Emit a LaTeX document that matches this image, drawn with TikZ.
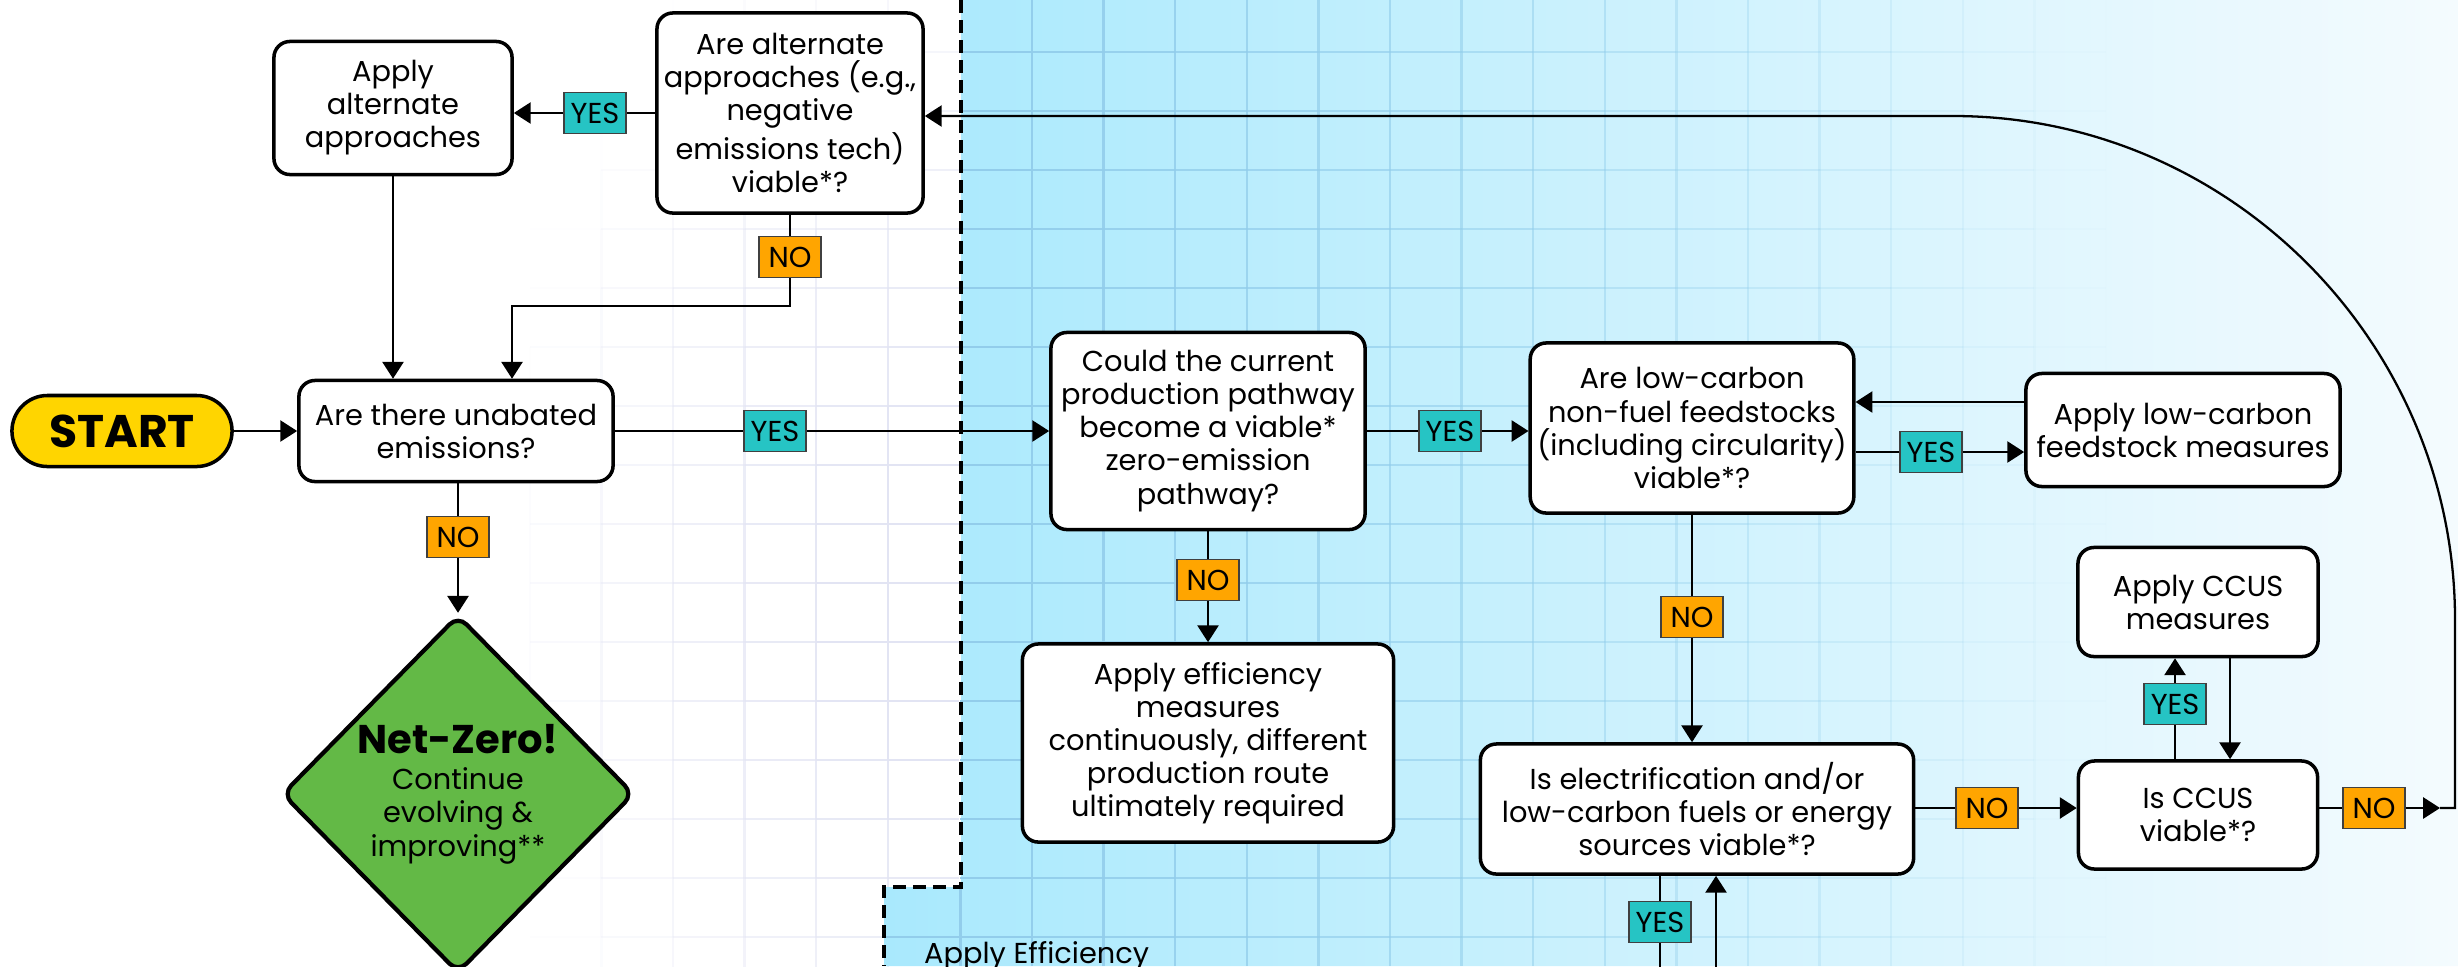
\documentclass[tikz,border=0pt]{standalone}
\usepackage{fontspec}
\setmainfont{Poppins}
\usetikzlibrary{arrows.meta, shapes.geometric}

\definecolor{teal1}{HTML}{26C4C4}
\definecolor{orange1}{HTML}{FFA500}
\definecolor{yellow1}{HTML}{FFD500}
\definecolor{green1}{HTML}{63B946}
\definecolor{skyL}{HTML}{A9E9FD}
\definecolor{skyR}{HTML}{F4FBFE}
\definecolor{gridblue}{HTML}{92CDEB}
\definecolor{gridlav}{HTML}{E2E4F3}

\newcommand{\boxfont}{\fontsize{8.2}{9.4}\selectfont}

\tikzset{
  box/.style={draw, line width=1pt, rounded corners=0.16cm, fill=white, align=center, font=\boxfont, inner sep=2pt},
  tag/.style={draw=black!75, line width=0.5pt, minimum width=0.62cm, minimum height=0.41cm, inner sep=0pt, font=\boxfont},
  yestag/.style={tag, fill=teal1},
  notag/.style={tag, fill=orange1},
  arr/.style={-{Triangle[length=4.8pt,width=6pt]}},
  link/.style={line width=0.65pt},
}

\begin{document}
\begin{tikzpicture}[x=0.01cm, y=-0.01cm, link]
\useasboundingbox (0,0) rectangle (2458,966);
\clip (0,0) rectangle (2458,966);

% faint grid on the white side
\foreach \i in {0,...,6} {
  \pgfmathsetmacro\gx{458.2+71.6*\i}
  \foreach \j in {-1,...,15} {
    \pgfmathsetmacro\gy{52+59*\j}
    \pgfmathsetmacro\dx{(\gx-961)/470}
    \pgfmathsetmacro\dy{(\gy+29.5-600)/750}
    \pgfmathsetmacro\op{min(1,max(0,1.3*(1-sqrt(\dx*\dx+\dy*\dy))))}
    \draw[gridlav, line width=0.7pt, opacity=\op] (\gx,\gy) -- ++(0,59);
  }
  \foreach \j in {0,...,15} {
    \pgfmathsetmacro\gy{52+59*\j}
    \pgfmathsetmacro\dx{(\gx+35.8-961)/470}
    \pgfmathsetmacro\dy{(\gy-600)/750}
    \pgfmathsetmacro\op{min(1,max(0,1.3*(1-sqrt(\dx*\dx+\dy*\dy))))}
    \draw[gridlav, line width=0.7pt, opacity=\op] (\gx,\gy) -- ++(71.6,0);
  }
}

% blue efficiency area
\shade[left color=skyL, right color=skyR] (961,0) -- (2458,0) -- (2458,966) -- (884,966) -- (884,887) -- (961,887) -- cycle;
\foreach \i in {1,...,16} {
  \pgfmathsetmacro\gx{960.4+71.6*\i}
  \pgfmathsetmacro\op{max(0,1-71.6*\i/1150)}
  \draw[gridblue, line width=0.7pt, opacity=\op] (\gx,0) -- (\gx,966);
}
\foreach \j in {0,...,15} {
  \pgfmathsetmacro\gy{52+59*\j}
  \foreach \i in {0,...,15} {
    \pgfmathsetmacro\gx{960.4+71.6*\i}
    \pgfmathsetmacro\op{max(0,1-71.6*(\i+0.5)/1150)}
    \draw[gridblue, line width=0.7pt, opacity=\op] (\gx,\gy) -- ++(71.6,0);
  }
}
\draw[gridblue, line width=0.7pt] (960.4,887) -- (960.4,966);
\draw[gridblue, line width=0.7pt] (884,937) -- (960.4,937);
\draw[line width=0.95pt, dash pattern=on 3.7pt off 2pt] (961,0) -- (961,887) -- (884,887) -- (884,966);
\node[font=\boxfont, anchor=base west, inner sep=0pt] (effarea) at (923,963) {Apply Efficiency};

% boxes
\node[box, fill=yellow1, rounded corners=0.355cm, minimum width=2.2cm, minimum height=0.71cm, font=\fontsize{13}{15}\selectfont\bfseries] (start) at (122,431) {START};
\node[box, minimum width=3.14cm, minimum height=1.01cm] (unab) at (456,431) {Are there unabated\\emissions?};
\node[box, minimum width=2.47cm, minimum height=2cm] (altq) at (790,113) {Are alternate\\approaches (e.g.,\\negative\\emissions tech)\\viable*?};
\node[box, minimum width=2.38cm, minimum height=1.33cm] (applyalt) at (393,108) {Apply\\alternate\\approaches};
\node[diamond, draw, line width=1.2pt, fill=green1, rounded corners=0.12cm, minimum width=3.52cm, minimum height=3.58cm, inner sep=0pt, align=center, font=\boxfont] (netzero) at (458,794) {{\fontsize{11.4}{13}\selectfont\bfseries Net-Zero!}\\[1pt]Continue\\evolving \&\\improving**};
\node[box, minimum width=3.14cm, minimum height=1.97cm] (could) at (1208,431) {Could the current\\production pathway\\become a viable*\\zero-emission\\pathway?};
\node[box, minimum width=3.71cm, minimum height=1.98cm] (effic) at (1208,743) {Apply efficiency\\measures\\continuously, different\\production route\\ultimately required};
\node[box, minimum width=3.13cm, minimum height=1.70cm] (lowc) at (1692,428) {Are low-carbon\\non-fuel feedstocks\\(including circularity)\\viable*?};
\node[box, minimum width=3.14cm, minimum height=1.13cm] (feeds) at (2183,430) {Apply low-carbon\\feedstock measures};
\node[box, minimum width=4.33cm, minimum height=1.30cm] (electr) at (1697,809) {Is electrification and/or\\low-carbon fuels or energy\\sources viable*?};
\node[box, minimum width=2.39cm, minimum height=1.08cm] (ccusq) at (2198,815) {Is CCUS\\viable*?};
\node[box, minimum width=2.40cm, minimum height=1.09cm] (ccusap) at (2198,602) {Apply CCUS\\measures};

% yes / no tags
\node[yestag] (yes1) at (595,113) {YES};
\node[notag] (no1) at (790,257) {NO};
\node[notag] (no2) at (458,537) {NO};
\node[yestag] (yes2) at (775,431) {YES};
\node[notag] (no3) at (1208,580) {NO};
\node[yestag] (yes3) at (1450,431) {YES};
\node[yestag] (yes4) at (1931,452) {YES};
\node[notag] (no4) at (1692,617) {NO};
\node[notag] (no5) at (1987,808) {NO};
\node[yestag] (yes5) at (2175,704) {YES};
\node[notag] (no6) at (2374,808) {NO};
\node[yestag] (yes6) at (1660,922) {YES};

% connectors
\draw[arr] (start) -- (unab);
\draw (unab) -- (yes2);
\draw[arr] (yes2) -- (could);
\draw (could) -- (yes3);
\draw[arr] (yes3) -- (yes3 -| lowc.west);
\draw (lowc.east |- yes4) -- (yes4);
\draw[arr] (yes4) -- (yes4 -| feeds.west);
\draw[arr] (feeds.west |- 0,402) -- (lowc.east |- 0,402);
\draw (lowc.south -| no4) -- (no4);
\draw[arr] (no4) -- (no4 |- electr.north);
\draw (electr.east |- no5) -- (no5);
\draw[arr] (no5) -- (no5 -| ccusq.west);
\draw (ccusq.north -| yes5) -- (yes5);
\draw[arr] (yes5) -- (yes5 |- ccusap.south);
\draw[arr] (ccusap.south -| 2230,0) -- (ccusq.north -| 2230,0);
\draw (ccusq.east |- no6) -- (no6);
\coordinate (tip) at (2440,808);
\coordinate (turn) at (2455,808);
\draw[arr] (no6) -- (tip);
\draw[arr] (tip) -- (turn) -- (2455,620) .. controls (2455,343) and (2230,116) .. (1953,116) -- (altq.east |- 0,116);
\draw (altq) -- (yes1);
\draw[arr] (yes1) -- (yes1 -| applyalt.east);
\draw[arr] (applyalt) -- (applyalt |- unab.north);
\draw (altq) -- (no1);
\coordinate (j1) at (512,306);
\draw[arr] (no1) |- (j1) -- (j1 |- unab.north);
\draw (unab.south -| no2) -- (no2);
\draw[arr] (no2) -- (netzero);
\draw (could) -- (no3);
\draw[arr] (no3) -- (effic);
\draw (electr.south -| yes6) -- (yes6) -- (yes6 |- 0,990);
\draw[arr] (1716,990) -- (electr.south -| 1716,0);
\end{tikzpicture}
\end{document}
